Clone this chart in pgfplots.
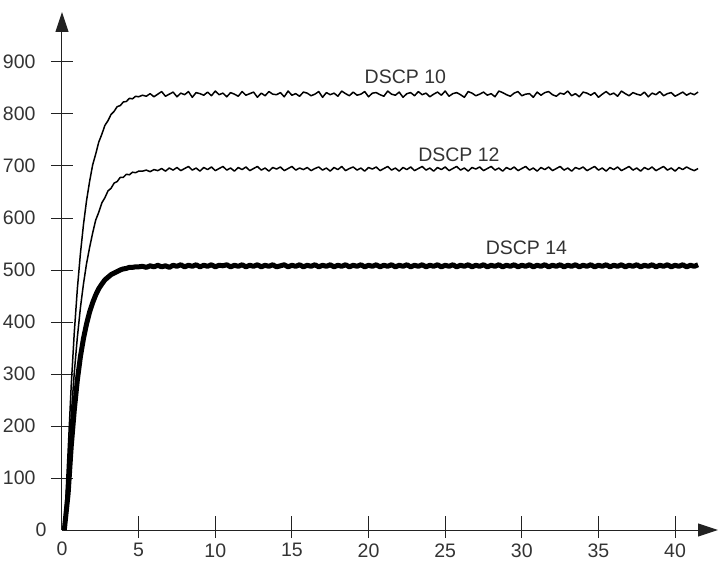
\documentclass[border=0pt]{standalone}
\usepackage{fontspec}
\setmainfont{Liberation Sans}
\usepackage{pgfplots}
\usepackage{pgfplotstable}
\pgfplotsset{compat=1.18}
\usetikzlibrary{arrows.meta}
\definecolor{txt}{HTML}{333333}
\definecolor{axc}{HTML}{222222}
\pgfplotstableread{
x     a   b   c
0.15  0   0   0
0.4   152 120 70
0.6   277 220 160
0.8   379 302 230
1.0   463 370 288
1.2   531 427 333
1.4   587 473 368
1.6   633 512 396
1.8   670 543 419
2.0   702 571 437
2.2   723 596 452
2.4   746 611 464
2.6   761 629 473
2.8   778 639 481
3.0   787 652 486
3.2   799 657 491
3.4   805 667 494
3.6   814 670 497
3.8   816 678 500
4.0   823 678 502
4.2   824 684 503
4.4   830 683 505
4.6   829 688 505
4.8   834 687 506
5.0   833 690 506
5.25  836 690 507
5.5   834 692 505
5.75  839 689 508
6.0   833 693 506
6.25  838 691 509
6.5   843 695 506
6.75  834 690 508
7.0   838 696 505
7.25  842 692 509
7.5   833 697 507
7.75  840 691 510
8.0   837 695 506
8.25  843 699 509
8.5   832 692 507
8.75  841 696 510
9.0   839 690 506
9.25  836 697 509
9.5   842 693 507
9.75  835 698 510
10.0  844 691 506
10.25 837 695 509
10.5  840 699 508
10.75 833 692 510
11.0  841 696 506
11.25 838 690 509
11.5  834 697 507
11.75 843 693 510
12.0  836 698 506
12.25 839 691 509
12.5  842 695 507
12.75 832 699 510
13.0  840 692 506
13.25 835 696 509
13.5  843 690 507
13.75 838 697 510
14.0  837 694 506
14.25 841 698 508
14.5  833 691 510
14.75 844 695 506
15.0  836 699 509
15.25 839 692 507
15.5  834 696 510
15.75 842 693 506
16.0  840 697 509
16.25 835 691 507
16.5  838 695 510
16.75 843 698 506
17.0  832 692 509
17.25 841 696 507
17.5  837 690 510
17.75 840 697 506
18.0  834 693 509
18.25 844 699 507
18.5  839 691 510
18.75 835 695 506
19.0  842 698 509
19.25 836 692 507
19.5  838 696 510
19.75 843 690 506
20.0  833 697 509
20.25 840 694 507
20.5  841 698 510
20.75 837 691 506
21.0  834 695 509
21.25 844 699 507
21.5  838 692 510
21.75 836 696 506
22.0  842 690 509
22.25 832 697 507
22.5  839 693 510
22.75 841 698 506
23.0  835 691 509
23.25 843 695 507
23.5  837 699 510
23.75 840 692 506
24.0  833 696 509
24.25 838 690 507
24.5  842 697 510
24.75 836 693 506
25.0  844 698 509
25.25 834 691 507
25.5  839 695 510
25.75 841 699 506
26.0  837 692 509
26.25 832 696 507
26.5  843 690 510
26.75 840 697 506
27.0  835 694 509
27.25 838 698 507
27.5  842 691 510
27.75 836 695 506
28.0  839 699 509
28.25 833 692 507
28.5  844 696 510
28.75 841 690 506
29.0  837 697 509
29.25 834 693 507
29.5  840 698 510
29.75 843 691 506
30.0  835 695 509
30.25 838 699 507
30.5  839 692 510
30.75 832 696 506
31.0  842 690 509
31.25 836 697 507
31.5  841 693 510
31.75 843 698 506
32.0  837 691 509
32.25 834 695 507
32.5  840 699 510
32.75 838 692 506
33.0  844 696 509
33.25 835 690 507
33.5  839 697 510
33.75 833 694 506
34.0  842 698 509
34.25 840 691 507
34.5  836 695 510
34.75 841 699 506
35.0  832 692 509
35.25 838 696 507
35.5  843 690 510
35.75 837 697 506
36.0  840 693 509
36.25 834 698 507
36.5  844 691 510
36.75 839 695 506
37.0  835 699 509
37.25 841 692 507
37.5  838 696 510
37.75 836 690 506
38.0  842 697 509
38.25 833 693 507
38.5  840 698 510
38.75 837 691 506
39.0  843 695 509
39.25 835 699 507
39.5  839 692 510
39.75 841 696 506
40.0  834 690 509
40.25 838 697 507
40.5  842 693 510
40.75 836 698 506
41.0  840 694 509
41.25 837 691 507
41.5  842 695 510
}\datatable
\begin{document}
\begin{tikzpicture}
\useasboundingbox (-62pt,-30pt) rectangle (658pt,530pt);
\begin{axis}[
  scale only axis,
  width=656pt, height=518pt,
  xmin=0, xmax=42.8, ymin=0, ymax=996,
  axis lines=left,
  axis line style={-{Triangle[length=20pt,width=13pt]}, line width=1pt, color=axc},
  xtick={5,10,...,40}, ytick={100,200,...,900},
  extra x ticks={0}, extra y ticks={0},
  extra tick style={major tick length=0pt, xticklabel style={yshift=-9pt}},
  tick align=center,
  major tick length=22pt,
  x tick style={line width=0.9pt, color=axc, yshift=3pt},
  y tick style={line width=0.9pt, color=axc},
  /pgf/number format/assume math mode=true,
  tick label style={font=\fontsize{19.5}{23}\selectfont, color=txt},
  xticklabel style={yshift=1pt},
  yticklabel style={xshift=-12pt},
  clip=false,
]
\addplot[black, line width=1.5pt, line join=round] table[x=x, y=a] {\datatable};
\addplot[black, line width=1.5pt, line join=round] table[x=x, y=b] {\datatable};
\addplot[black, line width=5pt, line join=round] table[x=x, y=c] {\datatable};
\node[font=\fontsize{19.5}{23}\selectfont, color=txt] at (axis cs:22.4,872) {DSCP 10};
\node[font=\fontsize{19.5}{23}\selectfont, color=txt] at (axis cs:25.9,722) {DSCP 12};
\node[font=\fontsize{19.5}{23}\selectfont, color=txt] at (axis cs:30.3,542) {DSCP 14};
\end{axis}
\end{tikzpicture}
\end{document}
